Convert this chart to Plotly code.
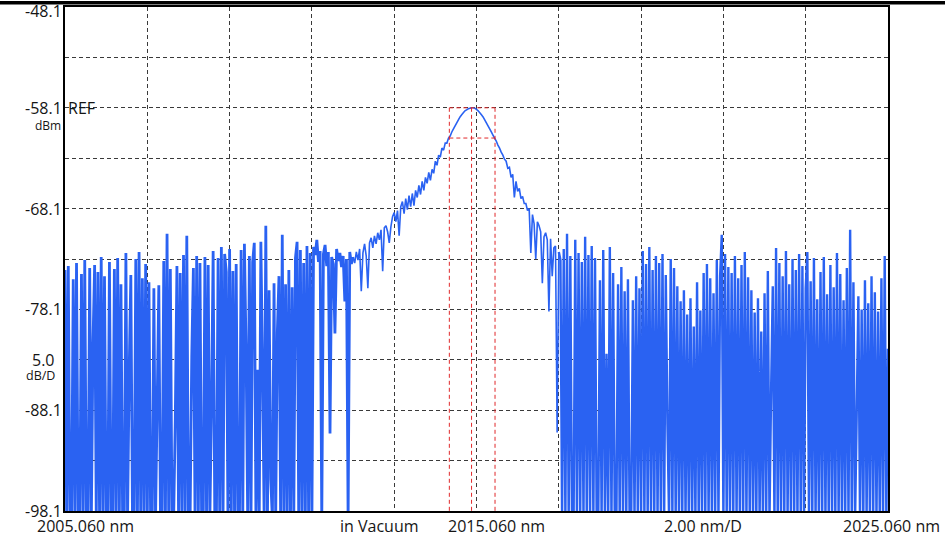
import plotly.graph_objects as go

# ---------------- data ----------------
START_NM = 2005.06
STEP_NM = 0.04
X_RANGE = [2005.06, 2025.06]
Y_RANGE = [-98.1, -48.1]

# noise floor left of the peak (-99 = below display floor)
noise_left = [
    -74.2, -99, -73.8, -99, -99, -75.1, -99, -73.5, -99, -99,
    -74.6, -99, -73.2, -99, -99, -74.0, -99, -81.5, -73.7, -99,
    -74.4, -99, -72.9, -99, -74.8, -99, -99, -73.4, -99, -99,
    -74.1, -99, -73.0, -99, -75.6, -99, -99, -72.5, -99, -84.2,
    -74.7, -99, -99, -73.1, -99, -72.4, -99, -75.0, -99, -73.6,
    -99, -75.4, -99, -99, -76.0, -99, -87.5, -75.7, -99, -99,
    -73.3, -99, -70.6, -99, -74.1, -99, -99, -89.0, -73.8, -99,
    -74.5, -99, -72.7, -99, -70.8, -99, -99, -82.8, -74.0, -99,
    -72.8, -99, -73.5, -99, -99, -72.9, -99, -73.7, -99, -87.8,
    -72.3, -99, -99, -73.0, -99, -71.9, -99, -72.6, -74.4, -99,
    -72.1, -99, -74.3, -99, -73.6, -99, -99, -72.2, -99, -71.6,
    -82.0, -99, -72.8, -99, -73.4, -71.5, -99, -84.1, -99, -71.4,
    -83.6, -99, -69.8, -99, -76.2, -95.0, -99, -75.5, -99, -80.4,
    -74.8, -99, -70.7, -99, -75.6, -99, -74.2, -99, -75.9, -99,
    -73.0, -71.4, -99, -72.2, -99, -73.5, -99, -71.8, -99, -72.5,
    -99, -71.9, -72.7, -71.2, -73.4, -72.3, -99, -72.6, -71.7, -73.8,
    -72.4, -90.4, -72.9, -73.6, -80.5, -72.1, -73.3, -72.5, -73.9, -72.8,
    -77.3, -73.1, -99, -72.4, -73.6,
]

flank_left = [
    -72.9, -73.5, -72.4, -73.2, -72.1, -76.3, -72.5, -71.6, -72.8, -76.0,
    -71.5, -71.0, -72.0, -70.8, -71.6, -70.5, -71.2, -70.2, -74.3, -70.0,
    -69.8, -70.4, -71.5, -69.9, -68.9, -68.5, -69.4, -68.3, -70.8, -67.9,
    -67.4, -68.6, -67.1, -68.2, -66.8, -67.9, -66.6, -67.8, -66.3, -67.0,
    -65.8, -66.7, -65.4, -66.3, -65.0, -65.6, -64.5, -65.3, -64.2, -64.6,
    -63.4, -63.8, -62.8, -63.0, -62.1, -62.3, -61.6, -61.6, -61.1, -60.9,
    -60.5, -60.2, -59.9, -59.6, -59.3, -59.0, -58.8, -58.6, -58.4, -58.3, -58.2, -58.15,
]

peak = [-58.1]

flank_right = [
    -58.1, -58.15, -58.25, -58.4, -58.6, -58.8, -59.0, -59.3, -59.6, -59.9,
    -60.2, -60.5, -60.8, -61.1, -61.4, -61.8, -62.1, -62.5, -62.8, -63.2,
    -63.4, -64.1, -64.0, -65.0, -64.7, -67.0, -65.4, -66.4, -66.1, -67.1,
    -66.9, -67.6, -67.6, -68.3, -68.1, -72.5, -68.7, -69.6, -73.1, -69.4,
    -69.8, -70.4, -75.5, -70.9, -70.5, -71.2, -78.3, -71.1, -74.8, -72.0,
    -71.8, -90.3, -72.4,
]

noise_right = [
    -73.2, -99, -72.1, -99, -70.6, -99, -72.8, -99, -99, -71.2,
    -99, -72.5, -99, -73.4, -99, -70.9, -99, -72.7, -99, -71.8,
    -99, -73.0, -99, -99, -75.2, -99, -72.2, -99, -82.5, -99,
    -71.9, -99, -74.5, -99, -99, -75.6, -99, -73.9, -99, -76.3,
    -99, -75.1, -99, -99, -77.2, -99, -74.8, -99, -76.0, -99,
    -72.3, -99, -73.6, -99, -71.9, -99, -74.2, -99, -72.8, -99,
    -73.5, -99, -72.6, -99, -74.7, -89.5, -99, -73.1, -99, -74.0,
    -99, -75.8, -99, -77.3, -99, -76.2, -99, -78.6, -99, -77.0,
    -99, -79.8, -99, -75.4, -99, -78.2, -99, -74.5, -99, -73.6,
    -99, -75.0, -99, -76.5, -99, -73.2, -99, -74.8, -70.7, -99,
    -72.6, -99, -73.9, -99, -74.5, -99, -72.8, -99, -75.0, -99,
    -73.7, -99, -72.4, -99, -74.9, -99, -76.2, -99, -78.4, -99,
    -77.0, -99, -80.3, -99, -76.5, -99, -74.3, -99, -86.0, -75.8,
    -99, -72.0, -99, -73.5, -99, -74.8, -99, -72.3, -99, -75.6,
    -99, -73.1, -99, -74.2, -99, -72.6, -99, -73.8, -99, -76.0,
    -72.4, -99, -75.3, -99, -73.0, -99, -77.1, -99, -74.4, -99,
    -72.9, -99, -76.6, -99, -73.7, -99, -75.9, -99, -72.5, -99,
    -74.6, -99, -77.2, -99, -74.0, -99, -70.2, -99, -75.4, -99,
    -88.2, -76.8, -99, -78.1, -99, -75.2, -99, -77.5, -99, -74.8,
    -99, -76.4, -99, -78.3, -99, -75.0, -99, -72.8, -99, -82.0,
]

power_dbm = noise_left + flank_left + peak + flank_right + noise_right
wavelength_nm = [round(START_NM + STEP_NM * i, 3) for i in range(len(power_dbm))]

# marker (peak / -3 dB) values
marker_peak_nm = 2014.94
marker_left_nm = 2014.40
marker_right_nm = 2015.51
marker_peak_dbm = -58.1
marker_3db_dbm = -61.1

y_label_values = [-48.1, -58.1, -68.1, -78.1, -88.1, -98.1]
y_label_texts = ["-48.1", "-58.1", "-68.1", "-78.1", "-88.1", "-98.1"]
scale_value = -83.1
scale_text = "5.0"

# ---------------- layout constants ----------------
W, H = 947, 539
ML, MR, MT, MB = 65, 59, 5, 28
PW = W - ML - MR
PH = H - MT - MB

def px_to_paper_x(px):
    return (px - ML) / PW

def py_to_paper_y(py):
    return 1 - (py - MT) / PH

FONT = "Open Sans, Noto Sans, Liberation Sans, sans-serif"
TXT = "#151515"
BLUE = "#2A62F2"
RED = "#E0282A"
GRID_DASH = "4px,3px"

fig = go.Figure()

# the trace is drawn in three overlapping pieces: dense noise floor pieces
# are stroked wider to mimic the instrument's many-points-per-pixel display
n_left = len(noise_left)
n_peak_end = n_left + len(flank_left) + len(peak) + len(flank_right)
pieces = [
    (0, n_left + 1, 2.8),
    (n_left, n_peak_end, 1.6),
    (n_peak_end - 1, len(power_dbm), 2.4),
]
for a, b, w in pieces:
    fig.add_trace(go.Scatter(
        x=wavelength_nm[a:b], y=power_dbm[a:b], mode="lines",
        line=dict(color=BLUE, width=w, simplify=False),
        hoverinfo="skip", showlegend=False,
    ))

# marker lines
mx, my = [], []
for xv in (marker_left_nm, marker_peak_nm, marker_right_nm):
    mx += [xv, xv, None]
    my += [marker_peak_dbm, Y_RANGE[0], None]
for yv in (marker_peak_dbm, marker_3db_dbm):
    mx += [marker_left_nm, marker_right_nm, None]
    my += [yv, yv, None]
fig.add_trace(go.Scatter(
    x=mx, y=my, mode="lines",
    line=dict(color=RED, width=1, dash="4px,3px"),
    hoverinfo="skip", showlegend=False,
))

annotations = []
# y labels
for v, t in zip(y_label_values, y_label_texts):
    ys = 0
    if v == Y_RANGE[1]:
        ys = -4
    annotations.append(dict(
        x=0, xref="paper", y=v, yref="y", text=t, showarrow=False,
        xanchor="center", yanchor="middle", xshift=-22, yshift=ys,
        font=dict(family=FONT, size=16, color=TXT)))
annotations.append(dict(
    x=0, xref="paper", y=scale_value, yref="y", text=scale_text, showarrow=False,
    xanchor="center", yanchor="middle", xshift=-22,
    font=dict(family=FONT, size=16, color=TXT)))
annotations.append(dict(
    x=0, xref="paper", y=scale_value, yref="y", text="dB/D", showarrow=False,
    xanchor="center", yanchor="middle", xshift=-25, yshift=-16,
    font=dict(family=FONT, size=12.5, color=TXT)))
annotations.append(dict(
    x=0, xref="paper", y=marker_peak_dbm, yref="y", text="dBm", showarrow=False,
    xanchor="right", yanchor="middle", xshift=-2, yshift=-18,
    font=dict(family=FONT, size=12, color=TXT)))
annotations.append(dict(
    x=0, xref="paper", y=marker_peak_dbm, yref="y", text="REF", showarrow=False,
    xanchor="left", yanchor="middle", xshift=1,
    font=dict(family=FONT, size=16, color=TXT)))

# x labels
x_labels = [
    ("2005.060 nm", 35, "left"),
    ("in Vacuum", 338, "left"),
    ("2015.060 nm", 446, "left"),
    ("2.00 nm/D", 662, "left"),
    ("2025.060 nm", 942, "right"),
]
for t, px, anc in x_labels:
    annotations.append(dict(
        x=px_to_paper_x(px), xref="paper", y=0, yref="paper", text=t,
        showarrow=False, xanchor=anc, yanchor="middle", yshift=-15,
        font=dict(family=FONT, size=16, color=TXT)))

shapes = [
    # top black bar of the instrument screen
    dict(type="rect", xref="paper", yref="paper",
         x0=px_to_paper_x(0), x1=px_to_paper_x(945),
         y0=py_to_paper_y(2.5), y1=py_to_paper_y(-1),
         fillcolor="black", line=dict(width=0), layer="above"),
]

fig.update_layout(
    width=W, height=H,
    margin=dict(l=ML, r=MR, t=MT, b=MB),
    paper_bgcolor="white", plot_bgcolor="white",
    showlegend=False,
    annotations=annotations,
    shapes=shapes,
    xaxis=dict(
        range=X_RANGE, tickmode="linear", tick0=X_RANGE[0], dtick=2,
        showgrid=True, gridcolor="#3a3a3a", gridwidth=1, griddash=GRID_DASH,
        showticklabels=False, ticks="", zeroline=False,
        showline=True, linecolor="black", linewidth=2, mirror=True,
    ),
    yaxis=dict(
        range=Y_RANGE, tickmode="linear", tick0=Y_RANGE[0], dtick=5,
        showgrid=True, gridcolor="#3a3a3a", gridwidth=1, griddash=GRID_DASH,
        showticklabels=False, ticks="", zeroline=False,
        showline=True, linecolor="black", linewidth=2, mirror=True,
    ),
)

fig.write_html(
    "out.html",
    config={"displayModeBar": False},
    post_script="document.body.style.margin='0px';document.body.style.overflow='hidden';",
)
